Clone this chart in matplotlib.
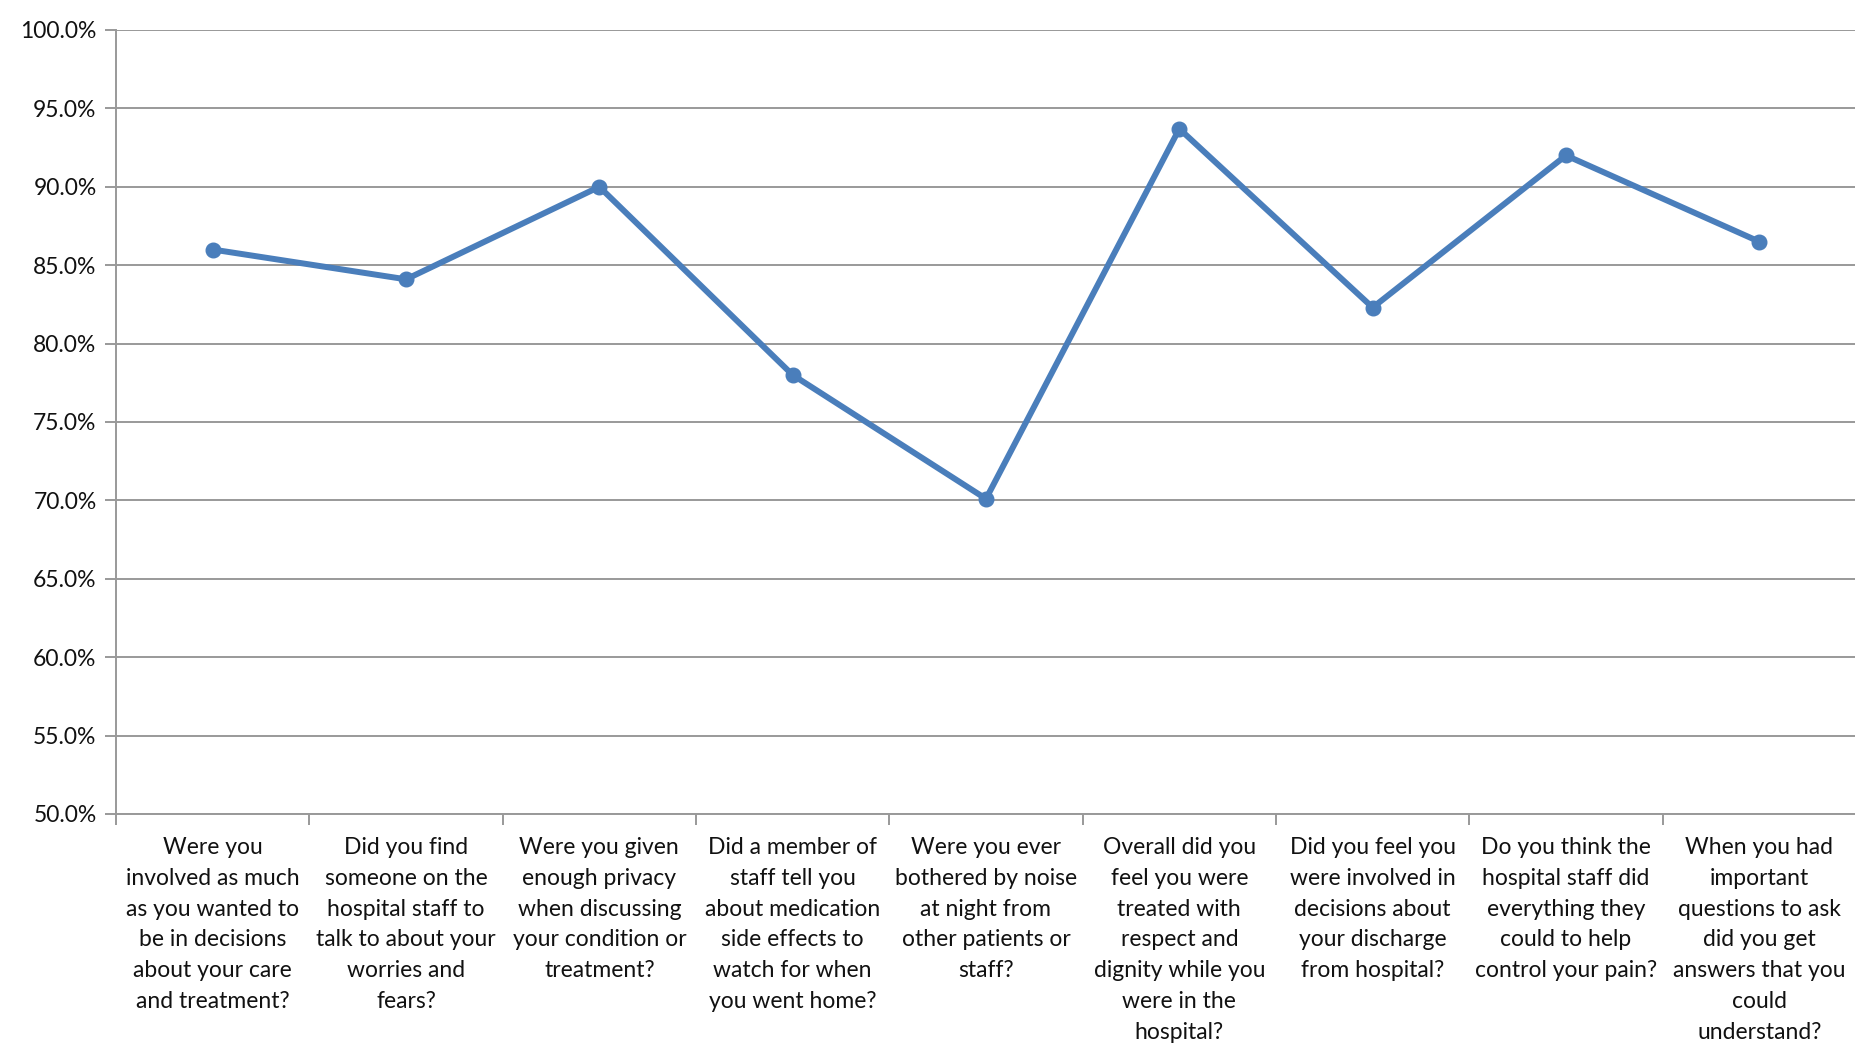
import matplotlib
matplotlib.use("Agg")
import matplotlib.pyplot as plt
from matplotlib.ticker import FixedLocator, FuncFormatter

plt.rcParams['font.family'] = ['Lato', 'DejaVu Sans']

categories = [
    "Were you\ninvolved as much\nas you wanted to\nbe in decisions\nabout your care\nand treatment?",
    "Did you find\nsomeone on the\nhospital staff to\ntalk to about your\nworries and\nfears?",
    "Were you given\nenough privacy\nwhen discussing\nyour condition or\ntreatment?",
    "Did a member of\nstaff tell you\nabout medication\nside effects to\nwatch for when\nyou went home?",
    "Were you ever\nbothered by noise\nat night from\nother patients or\nstaff?",
    "Overall did you\nfeel you were\ntreated with\nrespect and\ndignity while you\nwere in the\nhospital?",
    "Did you feel you\nwere involved in\ndecisions about\nyour discharge\nfrom hospital?",
    "Do you think the\nhospital staff did\neverything they\ncould to help\ncontrol your pain?",
    "When you had\nimportant\nquestions to ask\ndid you get\nanswers that you\ncould\nunderstand?",
]
values = [86.0, 84.1, 90.0, 78.0, 70.1, 93.7, 82.3, 92.0, 86.5]
y_ticks = [50, 55, 60, 65, 70, 75, 80, 85, 90, 95, 100]

fig = plt.figure(figsize=(18.56, 10.5), dpi=100)
ax = fig.add_axes([116/1856, 1-814/1050, 1-116/1856, (814-30)/1050])

n = len(values)
xs = [i + 0.5 for i in range(n)]
ax.plot(xs, values, color='#4A7EBB', lw=4.3, marker='o', ms=10.5, zorder=3,
        solid_joinstyle='round')

ax.set_xlim(0, n)
ax.set_ylim(50, 100)
ax.yaxis.set_major_locator(FixedLocator(y_ticks))
ax.yaxis.set_major_formatter(FuncFormatter(lambda v, p: f"{v:.1f}%"))
ax.grid(axis='y', color='#999999', lw=1.4)
ax.set_axisbelow(True)

ax.xaxis.set_major_locator(FixedLocator(list(range(n + 1))))
ax.xaxis.set_minor_locator(FixedLocator(xs))
ax.set_xticklabels([''] * (n + 1))
ax.set_xticklabels(categories, minor=True, fontsize=16.5, linespacing=1.58, color='#111111')
ax.tick_params(axis='x', which='minor', length=0, pad=16.5)
ax.tick_params(axis='x', which='major', length=8, color='#999999', width=1.4)
ax.tick_params(axis='y', length=8, color='#999999', width=1.4, labelsize=16.5,
               labelcolor='#111111', pad=6)

for s in ['top', 'right']:
    ax.spines[s].set_visible(False)
for s in ['left', 'bottom']:
    ax.spines[s].set_color('#999999')
    ax.spines[s].set_linewidth(1.4)

fig.savefig('out.png', dpi=100)
